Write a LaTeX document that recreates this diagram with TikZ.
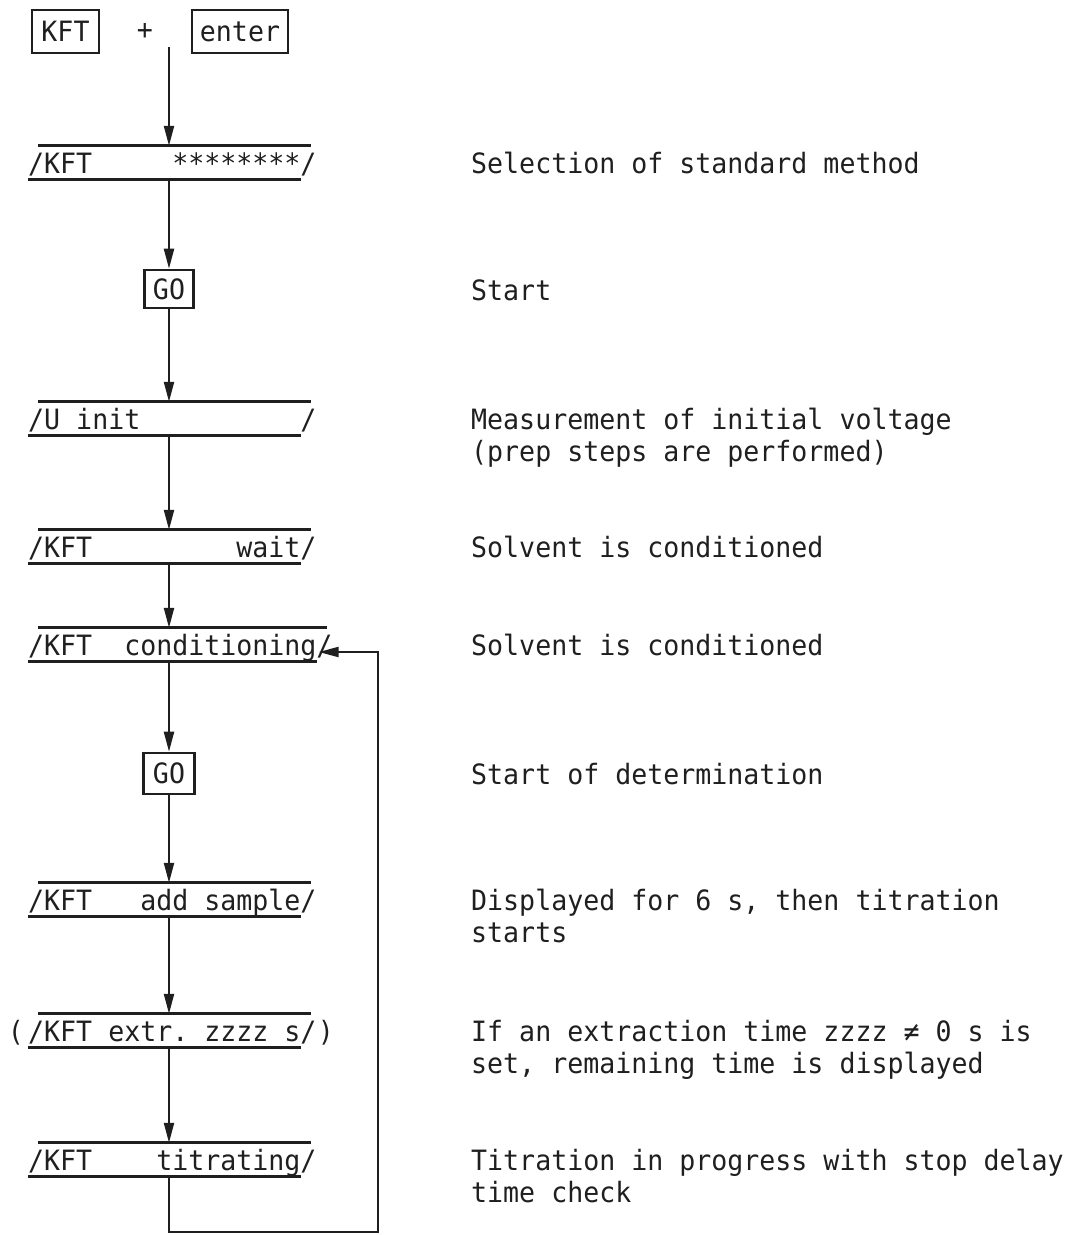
\documentclass[tikz,border=0pt]{standalone}
\usepackage{fontspec}
\newfontfamily\dm[FakeStretch=0.95]{DejaVu Sans Mono}
\usetikzlibrary{arrows.meta,calc}
\newcommand\dispbox[3]{%
  \node[disp] (#1) at (#2) {#3};
  \draw[bar] ([xshift=10pt]#1.north west) -- ([xshift=-6pt]#1.north east);
  \draw[bar] (#1.south west) -- ([xshift=-16pt]#1.south east);
}
\begin{document}
\begin{tikzpicture}[x=1pt,y=-1pt,
  every node/.style={font=\dm\fontsize{28}{32}\selectfont\frenchspacing, text=black!88},
  keybox/.style={draw=black!88, line width=2.6pt, inner sep=0pt},
  disp/.style={inner xsep=0pt, inner ysep=3pt, text height=24pt, text depth=3pt, anchor=base west},
  bar/.style={draw=black!88, line width=3pt},
  arr/.style={draw=black!88, line width=2.2pt, -{Triangle[length=20pt,width=10pt]}},
  desc/.style={anchor=base west, inner sep=0pt},
]
\useasboundingbox (0,0) rectangle (1066,1235);
\coordinate (ax) at (169,0);

% top keys
\node[keybox, minimum width=67pt, minimum height=43pt] (kft) at (65.5,31.5) {KFT};
\node[inner sep=0pt] (plus) at (145,31) {+};
\node[keybox, minimum width=96pt, minimum height=43pt] (enter) at (240,31.5) {enter};
\coordinate (start) at (169,47);

% displays and keys of the column
\dispbox{d1}{28,173}{/KFT~~~~~********/}
\node[keybox, minimum width=49pt, minimum height=38pt] (go1) at (169,289) {GO};
\dispbox{d2}{28,429}{/U~init~~~~~~~~~~/}
\dispbox{d3}{28,557}{/KFT~~~~~~~~~wait/}
\dispbox{d4}{28,655}{/KFT~~conditioning/}
\node[keybox, minimum width=51pt, minimum height=41pt] (go2) at (169,773.5) {GO};
\dispbox{d5}{28,910}{/KFT~~~add~sample/}
\dispbox{d6}{28,1041}{/KFT~extr.~zzzz~s/}
\node[inner sep=0pt, anchor=base east] (lp) at ($(d6.base west)+(-4,0)$) {(};
\node[inner sep=0pt, anchor=base west] (rp) at ($(d6.base east)+(1,0)$) {)};
\dispbox{d7}{28,1170}{/KFT~~~~titrating/}

% connectors
\draw[arr] (start) -- (d1.north -| ax);
\draw[arr] (d1.south -| ax) -- (go1.north);
\draw[arr] (go1.south) -- (d2.north -| ax);
\draw[arr] (d2.south -| ax) -- (d3.north -| ax);
\draw[arr] (d3.south -| ax) -- (d4.north -| ax);
\draw[arr] (d4.south -| ax) -- (go2.north);
\draw[arr] (go2.south) -- (d5.north -| ax);
\draw[arr] (d5.south -| ax) -- (d6.north -| ax);
\draw[arr] (d6.south -| ax) -- (d7.north -| ax);
\coordinate (lb) at (378,1232);
\path (d4.base east) ++(-14,-3) coordinate (rin);
\draw[arr] (d7.south -| ax) |- (lb) |- (rin);

% descriptions
\node[desc] (t1) at (471,173) {Selection of standard method};
\node[desc] (t2) at (471,300) {Start};
\node[desc] (t3) at (471,429) {\vtop{\hbox{Measurement of initial voltage}\hbox{(prep steps are performed)}}};
\node[desc] (t4) at (471,557) {Solvent is conditioned};
\node[desc] (t5) at (471,655) {Solvent is conditioned};
\node[desc] (t6) at (471,784) {Start of determination};
\node[desc] (t7) at (471,910) {\vtop{\hbox{Displayed for 6 s, then titration}\hbox{starts}}};
\node[desc] (t8) at (471,1041) {\vtop{\hbox{If an extraction time zzzz ≠ 0 s is}\hbox{set, remaining time is displayed}}};
\node[desc] (t9) at (471,1170) {\vtop{\hbox{Titration in progress with stop delay}\hbox{time check}}};
\end{tikzpicture}
\end{document}
